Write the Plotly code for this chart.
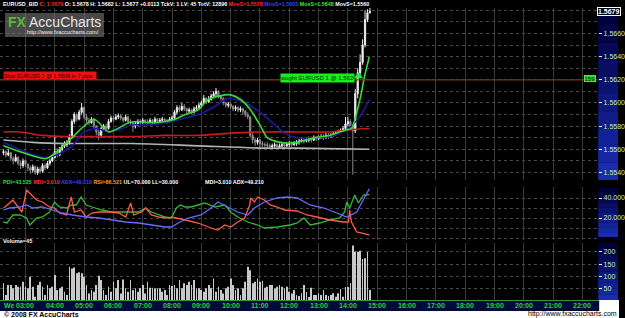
import plotly.graph_objects as go

W, H = 625, 318

# ---------------- data ----------------
bar_start = 2.25            # first 5-minute bar, in hours of the day
bar_step = 5 / 60
base_price = 1.5500         # prices below are given in pips above this level
first_open_pips = 57
close_pips = [58, 55, 57, 52, 50, 53, 48, 46, 50, 47, 44, 42, 45,
              40, 43, 41, 46, 44, 48, 50,
              53, 58, 55, 60, 63, 64, 66,
              70, 84, 90, 86, 92, 96, 88,
              85, 83, 86, 80, 75, 72, 78,
              80, 78, 84, 87, 86, 88,
              89, 87, 85, 88, 84, 83,
              80, 82, 84, 83, 85, 84,
              84, 85, 83, 86, 84, 85, 86, 85, 84, 86,
              87, 92, 96, 94, 97, 95, 93,
              94, 92, 95, 96, 98,
              100, 104, 101, 103, 106, 108,
              110, 106, 104, 100,
              98, 99, 97, 95, 96, 94, 95, 93,
              90, 88, 72, 68,
              66, 68, 65, 64,
              64, 63, 62, 63, 64, 62, 63, 64, 63, 64, 65, 64, 65, 66, 67,
              68, 67, 68, 69, 68, 70, 69, 70, 71, 70, 72, 71,
              72, 73, 74, 75, 76, 78,
              82, 84, 80,
              76,
              108, 126, 135, 150, 172, 178, 179]
high_pips = [60, 59, 60, 58, 54, 56, 54, 50, 52, 51, 48, 46, 47,
             46, 45, 45, 48, 48, 50, 52,
             56, 72, 61, 62, 65, 67, 68,
             73, 86, 92, 91, 94, 100, 97,
             90, 87, 88, 87, 81, 77, 80,
             82, 82, 86, 89, 89, 90,
             91, 90, 88, 90, 89, 86,
             84, 84, 86, 86, 87, 86,
             86, 87, 86, 88, 87, 87, 88, 87, 86, 88,
             89, 94, 98, 98, 100, 99, 96,
             96, 95, 97, 98, 100,
             102, 107, 105, 106, 108, 110,
             113, 111, 107, 105,
             101, 101, 100, 98, 98, 97, 97, 96,
             94, 92, 89, 74,
             70, 70, 69, 67,
             66, 66, 65, 65, 66, 65, 65, 66, 66, 66, 67, 67, 67, 68, 69,
             70, 70, 70, 71, 71, 72, 71, 72, 73, 73, 74, 74,
             74, 75, 76, 77, 78, 80,
             88, 88, 86,
             82,
             112, 130, 142, 155, 180, 181, 182]
low_pips = [55, 53, 54, 50, 47, 49, 46, 43, 44, 45, 41, 39, 40,
            38, 38, 39, 40, 42, 43, 46,
            49, 52, 53, 54, 58, 61, 62,
            64, 69, 82, 84, 85, 90, 86,
            83, 81, 82, 78, 72, 68, 70,
            76, 76, 77, 83, 84, 85,
            86, 85, 83, 84, 82, 81,
            75, 78, 80, 81, 82, 82,
            82, 83, 81, 82, 82, 83, 84, 83, 82, 83,
            85, 86, 90, 92, 93, 93, 91,
            91, 90, 91, 94, 95,
            97, 99, 99, 100, 102, 104,
            106, 104, 102, 98,
            96, 96, 95, 93, 93, 92, 92, 90,
            88, 86, 70, 65,
            63, 64, 62, 62,
            62, 61, 60, 60, 61, 60, 61, 61, 61, 62, 62, 62, 63, 63, 64,
            66, 65, 66, 66, 66, 67, 67, 68, 69, 68, 69, 69,
            70, 71, 72, 73, 74, 75,
            77, 80, 78,
            38,
            74, 104, 122, 133, 148, 170, 177]
volume = [72, 24, 65, 65, 52, 65, 58, 58, 79, 58, 52, 99, 58, 17, 65,
          79, 58, 24, 65, 52, 58, 106, 45,
          52, 58, 38, 24, 140, 133, 137, 113, 117, 113, 99, 65, 31, 45, 38, 65,
          103, 86, 45, 24, 58, 38, 79, 52, 86, 31, 88, 52, 38, 86, 45, 52, 38,
          52, 65, 31, 79, 54, 54, 52, 52, 52,
          38, 45, 24, 65, 61, 65, 52, 86, 52, 72, 65, 79, 65, 86, 52, 52, 45,
          38, 52, 65, 52, 92, 38, 58, 45, 31, 52, 58, 92, 65, 45, 52, 24, 52,
          79, 140, 126, 72, 79, 92, 79, 83, 54, 58, 65, 65, 52, 58, 65, 58,
          52, 58, 38, 31, 45, 24,
          20, 32, 65, 37, 16, 54, 24, 24, 32, 24, 45, 24, 20, 24, 32, 17, 32,
          49, 17, 57, 57, 73, 226, 201, 201, 205, 171, 174, 200, 45]

# moving averages (hour, price)
ma_green_t = [2.25, 2.81, 3.72, 4.50, 5.34, 5.85, 6.52, 6.86, 7.20, 7.77, 8.11, 8.45, 8.89,
              9.23, 9.80, 10.00, 10.34, 10.68, 11.02, 11.25, 11.69, 12.27, 12.84, 13.38,
              13.96, 14.12, 14.40, 14.56, 14.73]
ma_green_v = [1.5563, 1.5558, 1.5552, 1.5568, 1.5586, 1.5575, 1.5583, 1.5584, 1.5583, 1.5584,
              1.5586, 1.5590, 1.5594, 1.5603, 1.5607, 1.5607, 1.5603, 1.5594, 1.5580, 1.5570,
              1.5566, 1.5566, 1.5570, 1.5572, 1.5577, 1.5578, 1.5602, 1.5622, 1.5640]
ma_blue_t = [2.25, 3.58, 4.06, 4.60, 4.94, 5.41, 5.85, 6.19, 6.63, 7.20, 7.77, 8.45, 8.89,
             9.46, 9.90, 10.51, 11.15, 11.83, 12.27, 12.84, 13.38, 13.96, 14.40, 14.73]
ma_blue_v = [1.5566, 1.5553, 1.5555, 1.5563, 1.5574, 1.5578, 1.5575, 1.5577, 1.5581, 1.5581,
             1.5583, 1.5587, 1.5590, 1.5597, 1.5604, 1.5600, 1.5589, 1.5574, 1.5570, 1.5570,
             1.5571, 1.5577, 1.5588, 1.5603]
ma_red_t = [2.25, 2.81, 3.58, 4.40, 5.51, 6.63, 7.77, 8.89, 10.00, 11.15, 12.27, 13.38, 14.06, 14.73]
ma_red_v = [1.5575, 1.5575, 1.5572, 1.5571, 1.5571, 1.5571, 1.5572, 1.5572, 1.5574, 1.5575,
            1.5575, 1.5575, 1.5577, 1.5578]
ma_white_t = [2.25, 3.25, 4.40, 6.63, 8.89, 11.15, 12.27, 14.73]
ma_white_v = [1.5568, 1.5566, 1.5565, 1.5565, 1.5563, 1.5561, 1.5561, 1.5560]

# DMI indicators (hour, value)
mdi_t = [2.25, 2.30, 2.57, 2.74, 2.88, 3.04, 3.21, 3.38, 3.58, 3.82, 3.99, 4.16, 4.40, 4.56,
         4.67, 4.90, 5.07, 5.27, 5.51, 5.85, 6.19, 6.42, 6.59, 6.69, 6.96, 7.10, 7.30, 7.54,
         7.88, 7.98, 8.45, 8.89, 9.33, 9.56, 9.80, 10.00, 10.24, 10.48, 10.65, 10.68, 10.81,
         10.92, 11.15, 11.35, 11.59, 11.83, 12.27, 12.60, 12.94, 13.38, 13.86, 14.02, 14.06,
         14.12, 14.30, 14.73]
mdi_v = [30, 31, 38, 31, 26, 48, 43, 38, 36, 31, 30, 25, 23, 41, 26, 28, 21, 25, 26, 26, 25,
         21, 35, 23, 26, 30, 23, 21, 20, 21, 18, 15, 10, 8, 13, 11, 16, 20, 33, 40, 36, 41,
         38, 33, 31, 28, 27, 23, 21, 18, 16, 16, 28, 16, 6, 3.01]
pdi_t = [2.25, 2.37, 2.57, 2.81, 3.04, 3.15, 3.38, 3.58, 3.82, 3.99, 4.16, 4.40, 4.56, 4.73,
         4.90, 5.07, 5.27, 5.61, 5.95, 6.42, 6.86, 7.10, 7.30, 7.77, 7.98, 8.15, 8.28, 8.45,
         8.65, 8.89, 9.12, 9.46, 9.80, 10.00, 10.24, 10.58, 10.92, 11.15, 11.59, 12.03, 12.27,
         12.50, 12.71, 13.04, 13.38, 13.72, 13.89, 13.96, 14.06, 14.23, 14.36, 14.53, 14.73]
pdi_v = [16, 15, 23, 23, 20, 13, 20, 21, 26, 36, 31, 30, 33, 33, 41, 33, 31, 28, 26, 26, 26,
         30, 26, 21, 20, 30, 33, 31, 31, 33, 35, 31, 33, 26, 21, 16, 13, 10, 11, 13, 15, 20,
         13, 15, 18, 20, 26, 36, 30, 43, 35, 43, 43.5]
adx_t = [2.25, 2.47, 2.81, 3.04, 3.25, 3.58, 3.92, 4.26, 4.60, 5.07, 5.51, 5.95, 6.42, 6.86,
         7.30, 7.77, 7.98, 8.21, 8.55, 8.99, 9.33, 9.56, 9.90, 10.24, 10.58, 10.81, 11.15,
         11.59, 11.93, 12.27, 12.71, 13.18, 13.62, 13.96, 14.30, 14.73]
adx_v = [28, 30, 31, 33, 30, 31, 28, 25, 23, 21, 20, 18, 16, 15, 13, 11, 11, 15, 20, 23, 30,
         36, 31, 26, 23, 30, 36, 40, 41, 40, 33, 30, 25, 21, 26, 49.2]

price_ticks = [1.5540, 1.5560, 1.5580, 1.5600, 1.5620, 1.5640, 1.5660]
ind_ticks = [20, 40]
vol_ticks = [50, 100, 150, 200]
hour_ticks = list(range(3, 23))
hour_labels = ["%02d:00" % h for h in hour_ticks]

last_price = 1.5679
entry_price = 1.5620
entry_time = 14.36
entry_marker_price = 1.5623

header_parts = [("EURUSD_BID ", "#ffffff"), ("C: 1.5679 ", "#ff2a2a"),
                ("O: 1.5678 H: 1.5682 L: 1.5677 +0.0113 TckV: 1 LV: 45 TotV: 12896 ", "#ffffff"),
                ("MovS=1.5578 ", "#ff2a2a"), ("MovS=1.5603 ", "#3344ff"),
                ("MovS=1.5648 ", "#33ee33"), ("MovS=1.5560", "#ffffff")]
ind_parts = [("PDI=43.525 ", "#33dd33"), ("MDI=3.010 ", "#ff3030"), ("ADX=49.210 ", "#3344ff"),
             ("RSI=86.521 ", "#ff9a2a"), ("UL=70.000 LL=30.000", "#ffffff")]

# ---------------- helpers (layout only) ----------------
def px(x):
    return x / W


def py(y):
    return 1 - y / H


X_DOM = [0, px(604)]
X_RANGE = [2.1318, 22.537]
FONT = "Liberation Sans Narrow, Arial Narrow, Liberation Sans, Arial"
HFONT = "Liberation Sans, Arial"

times = [bar_start + i * bar_step for i in range(len(close_pips))]
closes = [base_price + p / 10000 for p in close_pips]
highs = [base_price + p / 10000 for p in high_pips]
lows = [base_price + p / 10000 for p in low_pips]
opens = [base_price + first_open_pips / 10000] + closes[:-1]

fig = go.Figure()

fig.add_trace(go.Candlestick(
    x=times, open=opens, high=highs, low=lows, close=closes,
    xaxis="x", yaxis="y", whiskerwidth=0,
    increasing=dict(line=dict(color="#eeeeee", width=1), fillcolor="#eeeeee"),
    decreasing=dict(line=dict(color="#8c8c8c", width=1), fillcolor="#8c8c8c"),
    showlegend=False, hoverinfo="skip"))

for t, v, c in [(ma_white_t, ma_white_v, "#b4b4b4"), (ma_red_t, ma_red_v, "#c81a1a"),
                (ma_blue_t, ma_blue_v, "#1a1aa0"), (ma_green_t, ma_green_v, "#3ad83a")]:
    fig.add_trace(go.Scatter(x=t, y=v, mode="lines", xaxis="x", yaxis="y",
                             line=dict(color=c, width=1.6, shape="spline", smoothing=0.7),
                             showlegend=False, hoverinfo="skip"))

fig.add_trace(go.Scatter(x=[entry_time], y=[entry_marker_price], mode="markers",
                         xaxis="x", yaxis="y",
                         marker=dict(symbol="triangle-up", size=8, color="#22ee22"),
                         showlegend=False, hoverinfo="skip"))

for t, v, c in [(pdi_t, pdi_v, "#33b833"), (mdi_t, mdi_v, "#ff5a4a"), (adx_t, adx_v, "#6a6aff")]:
    fig.add_trace(go.Scatter(x=t, y=v, mode="lines", xaxis="x2", yaxis="y2",
                             line=dict(color=c, width=1.3), showlegend=False, hoverinfo="skip"))

fig.add_trace(go.Bar(x=times, y=volume, xaxis="x3", yaxis="y3", width=bar_step * 0.3,
                     marker=dict(color="#c8c8c8", line=dict(width=0)),
                     showlegend=False, hoverinfo="skip"))

xcommon = dict(range=X_RANGE, domain=X_DOM, showticklabels=False, tickmode="array",
               tickvals=hour_ticks, showgrid=True, gridcolor="#3a3a3a", gridwidth=1,
               zeroline=False, showline=False, ticks="", fixedrange=True)
tickfont = dict(family=FONT, size=7, color="#c8f0a0")
ycommon = dict(side="right", showline=False, zeroline=False, ticks="outside", ticklen=3,
               tickcolor="#ffffff", tickfont=tickfont, gridcolor="#4a4a4a", griddash="dot",
               fixedrange=True)

fig.update_layout(
    width=W, height=H, margin=dict(l=0, r=0, t=0, b=0),
    paper_bgcolor="#000000", plot_bgcolor="#000000", showlegend=False, bargap=0.6,
    xaxis=dict(anchor="y", rangeslider=dict(visible=False), **xcommon),
    xaxis2=dict(anchor="y2", **xcommon),
    xaxis3=dict(anchor="y3", **xcommon),
    yaxis=dict(anchor="x", domain=[py(180), py(8)], range=[1.55335, 1.56820],
               tickmode="array", tickvals=price_ticks,
               ticktext=["%.4f" % v for v in price_ticks],
               minor=dict(dtick=0.001, tick0=1.5, showgrid=True, gridcolor="#4a4a4a",
                          griddash="dot", ticks=""),
               **ycommon),
    yaxis2=dict(anchor="x2", domain=[py(240), py(187)], range=[-2, 51],
                tickmode="array", tickvals=ind_ticks,
                ticktext=["%.3f" % v for v in ind_ticks],
                minor=dict(dtick=10, tick0=0, showgrid=True, gridcolor="#4a4a4a",
                           griddash="dot", ticks=""),
                **ycommon),
    yaxis3=dict(anchor="x3", domain=[py(301), py(243)], range=[0, 236.7],
                tickmode="array", tickvals=vol_ticks, ticktext=[str(v) for v in vol_ticks],
                **ycommon),
)

shapes = []


def gradient_box(y0, y1, n=10):
    c0, c1 = (0, 0, 60), (24, 44, 176)
    for k in range(n):
        f = k / (n - 1)
        col = "rgb(%d,%d,%d)" % tuple(int(a + (b - a) * f) for a, b in zip(c0, c1))
        ya = y0 + (y1 - y0) * k / n
        yb = y0 + (y1 - y0) * (k + 1) / n
        shapes.append(dict(type="rect", xref="paper", yref="paper", x0=px(604), x1=px(624),
                           y0=py(yb), y1=py(ya), fillcolor=col, line=dict(width=0),
                           layer="below"))


gradient_box(8, 180)
gradient_box(188, 237)
gradient_box(243, 300)

# entry level line
shapes.append(dict(type="line", xref="paper", yref="y", x0=0, x1=px(604),
                   y0=entry_price, y1=entry_price, line=dict(color="#7a3410", width=1.2)))
# time strip
shapes.append(dict(type="rect", xref="paper", yref="paper", x0=0, x1=px(605),
                   y0=py(311), y1=py(300), fillcolor="#000c38", line=dict(width=0)))
shapes.append(dict(type="line", xref="paper", yref="paper", x0=0, x1=px(605),
                   y0=py(300.5), y1=py(300.5), line=dict(color="#2f9a2f", width=1)))
# footer white areas
shapes.append(dict(type="rect", xref="paper", yref="paper", x0=0, x1=1,
                   y0=0, y1=py(311), fillcolor="#ffffff", line=dict(width=0)))
shapes.append(dict(type="rect", xref="paper", yref="paper", x0=px(605), x1=1,
                   y0=0, y1=py(300), fillcolor="#ffffff", line=dict(width=0)))
# watermark box
shapes.append(dict(type="rect", xref="paper", yref="paper", x0=px(5), x1=px(105),
                   y0=py(37), y1=py(13), fillcolor="rgba(120,120,120,0.6)",
                   line=dict(width=0)))

ann = []


def span_text(parts):
    return "".join('<span style="color:%s">%s</span>' % (c, t) for t, c in parts)


ann.append(dict(text="<b>" + span_text(header_parts) + "</b>", x=px(1), y=py(4),
                xanchor="left", yanchor="middle", font=dict(family=HFONT, size=5.4)))
ann.append(dict(text="<b>" + span_text(ind_parts) + "</b>", x=px(1), y=py(182),
                xanchor="left", yanchor="middle", font=dict(family=HFONT, size=5.4)))
ann.append(dict(text="<b>MDI=3.010 ADX=49.210</b>", x=px(205), y=py(182),
                xanchor="left", yanchor="middle",
                font=dict(family=HFONT, size=5.4, color="#ffffff")))
ann.append(dict(text="<b>Volume=45</b>", x=px(1), y=py(241), xanchor="left",
                yanchor="middle", font=dict(family=HFONT, size=5.6, color="#ffffff")))
# watermark
ann.append(dict(text='<b><span style="color:#5cb83a">FX</span></b> '
                     '<span style="color:#e6e6e6">AccuCharts</span>',
                x=px(55), y=py(22), xanchor="center", yanchor="middle",
                font=dict(family="Liberation Sans, Arial", size=14)))
ann.append(dict(text="http://www.fxaccucharts.com/", x=px(64), y=py(32),
                xanchor="center", yanchor="middle",
                font=dict(family="Liberation Sans, Arial", size=5.5, color="#f0f0f0")))
# trade labels
ann.append(dict(text="Stop EURUSD 1 @ 1.5606 in 7 pips", x=px(3), y=py(76), xanchor="left",
                yanchor="middle", width=92, height=7, align="left", bgcolor="#ee1111",
                borderpad=0, font=dict(family=FONT, size=5.5, color="#200000")))
ann.append(dict(text="Bought EURUSD 1 @ 1.5620", x=px(283), y=py(77.5), xanchor="left",
                yanchor="middle", width=73, height=8, align="center", bgcolor="#18ee18",
                borderpad=0, font=dict(family=FONT, size=6, color="#002000")))
ann.append(dict(text="159", x=px(596), y=py(78.5), xanchor="center", yanchor="middle",
                bgcolor="#22dd22", bordercolor="#aaffaa", borderwidth=0.5, borderpad=0,
                font=dict(family=FONT, size=6, color="#002000")))
# current price label
ann.append(dict(text="<b>%.4f</b>" % last_price, x=px(614.5), xref="paper", y=last_price,
                yref="y", xanchor="center", yanchor="middle", bgcolor="#000018",
                bordercolor="#ffffff", borderwidth=1, borderpad=0,
                font=dict(family=FONT, size=7, color="#ffffff")))
# time axis labels
ann.append(dict(text="<b>We</b>", x=px(2), y=py(305.5), xanchor="left", yanchor="middle",
                font=dict(family=FONT, size=7, color="#33d033")))
for h, lab in zip(hour_ticks, hour_labels):
    ann.append(dict(text="<b>%s</b>" % lab, x=h, xref="x3", y=py(305.5), yref="paper",
                    xanchor="center", yanchor="middle",
                    font=dict(family=FONT, size=7, color="#33d033")))
# footer
ann.append(dict(text="<b>© 2008 FX AccuCharts</b>", x=px(2), y=py(314.5), xanchor="left",
                yanchor="middle", font=dict(family="Liberation Sans, Arial", size=7,
                                            color="#000000")))
ann.append(dict(text="http://www.fxaccucharts.com", x=1, y=py(313.5), xanchor="right",
                yanchor="middle", font=dict(family="Liberation Sans, Arial", size=7,
                                            color="#000000")))

for a in ann:
    a.setdefault("xref", "paper")
    a.setdefault("yref", "paper")
    a["showarrow"] = False

fig.update_layout(shapes=shapes, annotations=ann)
fig.write_html("out.html")
